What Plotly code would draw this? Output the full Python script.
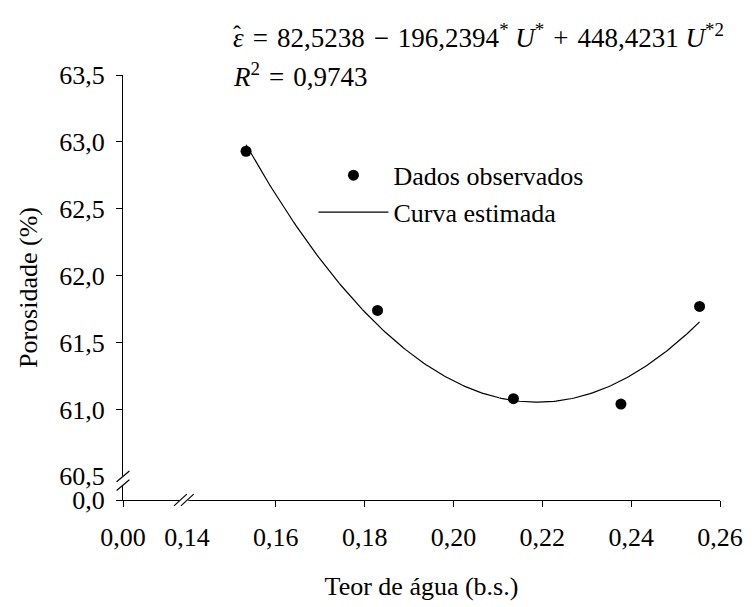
import numpy as np
import plotly.graph_objects as go

# ---- data ----
teor_agua = [0.1533, 0.1829, 0.2135, 0.2377, 0.2554]      # Teor de água (b.s.)
porosidade = [62.93, 61.74, 61.08, 61.04, 61.77]         # Porosidade (%)
coef = [82.5238, -196.2394, 448.4231]                     # fitted quadratic from the equation

x_ticks = [0.14, 0.16, 0.18, 0.20, 0.22, 0.24, 0.26]
x_ticktext = ["0,14", "0,16", "0,18", "0,20", "0,22", "0,24", "0,26"]
y_ticks = [60.5, 61.0, 61.5, 62.0, 62.5, 63.0, 63.5]
y_ticktext = ["60,5", "61,0", "61,5", "62,0", "62,5", "63,0", "63,5"]

# broken-axis origin positions ("0,00" and "0,0")
X0 = 0.1256
Y0 = 60.323
X_MAX = 0.26
Y_MAX = 63.5

x_fit = np.linspace(min(teor_agua), max(teor_agua), 200)
y_fit = coef[0] + coef[1] * x_fit + coef[2] * x_fit ** 2

FONT = "Liberation Serif"
FS = 26
W, H = 755, 607
ML, MR, MT, MB = 123, 27, 75, 95
PW, PH = W - ML - MR, H - MT - MB

fig = go.Figure()
fig.add_trace(go.Scatter(
    x=teor_agua, y=porosidade, mode="markers", name="Dados observados",
    marker=dict(color="black", size=11), cliponaxis=False))
fig.add_trace(go.Scatter(
    x=x_fit, y=y_fit, mode="lines", name="Curva estimada",
    line=dict(color="black", width=1.2), cliponaxis=False))


def xp(px):  # pixel offset from plot left -> paper
    return px / PW


def yp(py):  # pixel offset from plot bottom (up positive) -> paper
    return py / PH


def xv(v):  # data x -> pixel offset
    return (v - X0) / (X_MAX - X0) * PW


def yv(v):
    return (v - Y0) / (Y_MAX - Y0) * PH


shapes = []
# x-axis break
cx = xv(0.1393)
shapes.append(dict(type="rect", xref="paper", yref="paper",
                   x0=xp(cx - 4.5), x1=xp(cx + 4.5), y0=yp(-9), y1=yp(3),
                   fillcolor="white", line=dict(width=0), layer="above"))
for off in (-3.5, 3.5):
    shapes.append(dict(type="line", xref="paper", yref="paper",
                       x0=xp(cx + off - 6.5), y0=yp(-6), x1=xp(cx + off + 6.5), y1=yp(6),
                       line=dict(color="black", width=1.2), layer="above"))
# y-axis break
cy = yv(60.5) - 4.5
shapes.append(dict(type="rect", xref="paper", yref="paper",
                   x0=xp(-9), x1=xp(3), y0=yp(cy - 4.5), y1=yp(cy + 5),
                   fillcolor="white", line=dict(width=0), layer="above"))
for off in (-4.5, 4.5):
    shapes.append(dict(type="line", xref="paper", yref="paper",
                       x0=xp(-6.5), y0=yp(cy + off - 5.5), x1=xp(6.5), y1=yp(cy + off + 5.5),
                       line=dict(color="black", width=1.2), layer="above"))

SP = "\u2004"  # three-per-em space for math-like spacing
EQ_Y = 512 - 35
annotations = [
    dict(xref="paper", yref="paper", x=xp(232 - ML), y=yp(EQ_Y), xanchor="left", yanchor="middle",
         showarrow=False, font=dict(family=FONT, size=27, color="black"),
         text=("<i>ε</i>" + SP + "=" + SP + "82,5238" + SP + "−" + SP + "196,2394<sup>*</sup> <i>U</i><sup>*</sup>"
               + SP + "+" + SP + "448,4231 <i>U</i><sup>*2</sup>")),
    dict(xref="paper", yref="paper", x=xp(239 - ML), y=yp(EQ_Y + 2), xanchor="center", yanchor="middle",
         showarrow=False, font=dict(family=FONT, size=24, color="black"), text="ˆ"),
    dict(xref="paper", yref="paper", x=xp(232 - ML), y=yp(512 - 75), xanchor="left", yanchor="middle",
         showarrow=False, font=dict(family=FONT, size=27, color="black"),
         text="<i>R</i><sup>2</sup>" + SP + "=" + SP + "0,9743"),
]

fig.update_layout(
    width=W, height=H, autosize=False,
    margin=dict(l=ML, r=MR, t=MT, b=MB, pad=0),
    paper_bgcolor="white", plot_bgcolor="white",
    font=dict(family=FONT, size=FS, color="black"),
    showlegend=True,
    legend=dict(x=xp(316 - ML), y=yp(512 - 154), xanchor="left", yanchor="top",
                bgcolor="rgba(0,0,0,0)", font=dict(family=FONT, size=FS, color="black"),
                itemwidth=70, tracegroupgap=0),
    xaxis=dict(range=[X0, X_MAX], tickvals=[X0] + x_ticks, ticktext=["0,00"] + x_ticktext,
               showline=True, linecolor="black", linewidth=1.2, ticks="outside", ticklen=6,
               tickcolor="black", tickwidth=1.2, showgrid=False, zeroline=False,
               ticklabelstandoff=8, tickfont=dict(family=FONT, size=FS),
               title=dict(text="Teor de água (b.s.)", standoff=25, font=dict(family=FONT, size=FS))),
    yaxis=dict(range=[Y0, Y_MAX], tickvals=[Y0] + y_ticks, ticktext=["0,0"] + y_ticktext,
               showline=True, linecolor="black", linewidth=1.2, ticks="outside", ticklen=6,
               tickcolor="black", tickwidth=1.2, showgrid=False, zeroline=False,
               ticklabelstandoff=6, tickfont=dict(family=FONT, size=FS),
               title=dict(text="Porosidade (%)", standoff=14, font=dict(family=FONT, size=FS))),
    shapes=shapes, annotations=annotations,
)

fig.write_html("out.html", config={"displayModeBar": False},
               post_script="document.body.style.margin='0';document.body.style.overflow='hidden';")
